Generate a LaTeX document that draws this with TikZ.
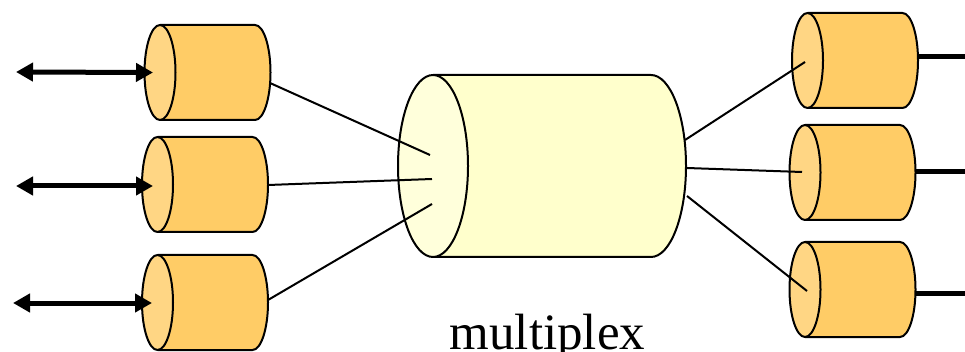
\documentclass[tikz,border=0pt]{standalone}
\usepackage{fontspec}
\setmainfont{Liberation Serif}
\usetikzlibrary{arrows.meta,calc}
\definecolor{orbody}{HTML}{FFCC66}
\definecolor{orend}{HTML}{FFD684}
\definecolor{ylbody}{HTML}{FFFFCC}
\definecolor{ylend}{HTML}{FFFFDB}
\tikzset{
  cylline/.style={line width=2pt, line join=round},
  conn/.style={line width=2pt},
  dblarrow/.style={line width=5pt, {Triangle[length=17pt,width=18pt]}-{Triangle[length=17pt,width=18pt]}},
  thickline/.style={line width=5pt}
}
% #1 name, #2 cx, #3 cy, #4 half distance of end centres, #5 rx, #6 ry, #7 body, #8 end
\newcommand{\mycyl}[8]{%
  \fill[#7] (#2-#4,#3-#6) -- (#2+#4,#3-#6)
     arc[start angle=-90,end angle=90,x radius=#5,y radius=#6]
     -- (#2-#4,#3+#6) -- cycle;
  \draw[cylline] (#2-#4,#3-#6) -- (#2+#4,#3-#6)
     arc[start angle=-90,end angle=90,x radius=#5,y radius=#6]
     -- (#2-#4,#3+#6);
  \draw[cylline, fill=#8] (#2-#4,#3) ellipse[x radius=#5, y radius=#6];
  \node[inner sep=0pt, outer sep=0pt, minimum width=2*#4+2*#5, minimum height=2*#6] (#1) at (#2,#3) {};
}
\begin{document}
\begin{tikzpicture}[x=1pt,y=-1pt]
\useasboundingbox (0,0) rectangle (965,352);
\mycyl{C}{542}{166}{109}{35}{91}{ylbody}{ylend}
\mycyl{L1}{207.5}{72.5}{47.5}{15.5}{47.5}{orbody}{orend}
\mycyl{L2}{205}{184.5}{47.5}{15.5}{47.5}{orbody}{orend}
\mycyl{L3}{205}{302.5}{47.5}{15.5}{47.5}{orbody}{orend}
\mycyl{R1}{855}{60.5}{47.5}{15.5}{47.5}{orbody}{orend}
\mycyl{R2}{852.5}{172.5}{47.5}{15.5}{47.5}{orbody}{orend}
\mycyl{R3}{852.5}{289.5}{47.5}{15.5}{47.5}{orbody}{orend}
\node[font=\fontsize{51}{60}\selectfont, anchor=base, inner sep=0pt] (T) at (547.5,349) {multiplex};
% free ends
\coordinate (a1) at (16,72);
\coordinate (a2) at (16,186);
\coordinate (a3) at (13,303);
\coordinate (e1) at (965,57);
\coordinate (e2) at (965,172);
\coordinate (e3) at (965,293);
% arrows
\draw[dblarrow] (a1) -- ($(L1.center)+(-54.5,0)$);
\draw[dblarrow] (a2) -- ($(L2.center)+(-52,1.5)$);
\draw[dblarrow] (a3) -- ($(L3.center)+(-53,0.5)$);
% left connectors
\draw[conn] ($(L1.center)+(62.5,10.5)$) -- ($(C.center)+(-112,-11)$);
\draw[conn] ($(L2.center)+(63,0.5)$) -- ($(C.center)+(-110,13)$);
\draw[conn] ($(L3.center)+(63,-2.5)$) -- ($(C.center)+(-110,38)$);
% right connectors
\draw[conn] ($(C.center)+(143,-26)$) -- ($(R1.center)+(-50,1.5)$);
\draw[conn] ($(C.center)+(145,2)$) -- ($(R2.center)+(-50.5,-0.5)$);
\draw[conn] ($(C.center)+(145,30)$) -- ($(R3.center)+(-45.5,1.5)$);
% right thick lines
\draw[thickline] ($(R1.center)+(63,-3.5)$) -- (e1);
\draw[thickline] ($(R2.center)+(63.5,-0.5)$) -- (e2);
\draw[thickline] ($(R3.center)+(63.5,3.5)$) -- (e3);
\end{tikzpicture}
\end{document}
